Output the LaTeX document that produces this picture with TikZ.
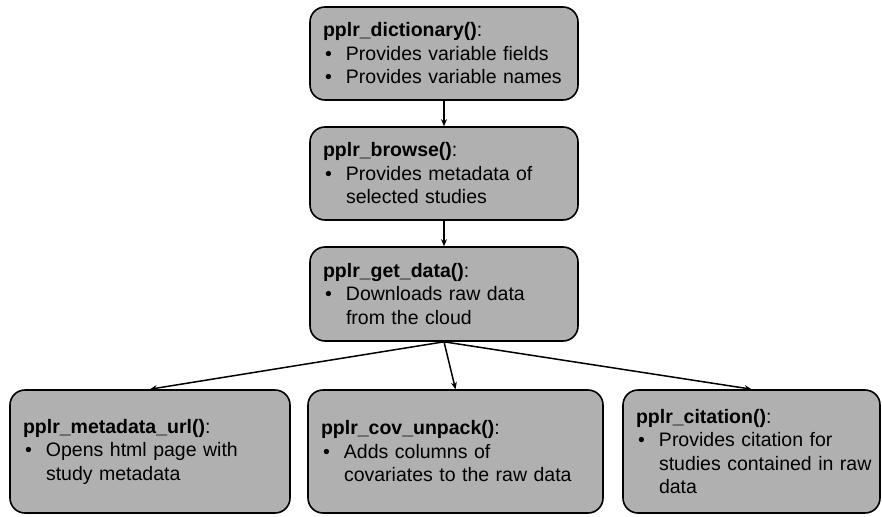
\documentclass[tikz,border=0pt]{standalone}
\usepackage{fontspec}
\setmainfont{Liberation Sans}
\usetikzlibrary{arrows.meta}
% bullet item and continuation line
\newcommand{\bl}{\makebox[23pt][l]{\hspace{2pt}\textbullet}}
\newcommand{\cn}{\hspace*{23pt}}
\newcommand{\fn}[1]{\textbf{#1}:}
\begin{document}
\begin{tikzpicture}[x=1pt,y=-1pt,
  fnbox/.style={draw=black, line width=1.6pt, fill=boxgray, rounded corners=15pt,
    align=left, inner xsep=13pt, inner ysep=0pt, anchor=center,
    font=\fontsize{19.5}{23.5}\selectfont},
  link/.style={line width=1.5pt, -{Stealth[length=7pt,width=6pt]}}]
\definecolor{boxgray}{HTML}{B0B0B0}
\useasboundingbox (0,0) rectangle (882,516);

\node[fnbox, minimum width=268pt, minimum height=93pt, text width=242pt] (dict) at (444,53.5)
  {\fn{pplr\_dictionary()}\\ \bl Provides variable fields\\ \bl Provides variable names};
\node[fnbox, minimum width=268pt, minimum height=93pt, text width=242pt] (browse) at (444,173.5)
  {\fn{pplr\_browse()}\\ \bl Provides metadata of\\ \cn selected studies};
\node[fnbox, minimum width=268pt, minimum height=94pt, text width=242pt] (getdata) at (444,294)
  {\fn{pplr\_get\_data()}\\ \bl Downloads raw data\\ \cn from the cloud};

\node[fnbox, minimum width=280pt, minimum height=123pt, text width=254pt] (meta) at (150,451.5)
  {\fn{pplr\_metadata\_url()}\\ \bl Opens html page with\\ \cn study metadata};
\node[fnbox, minimum width=295pt, minimum height=123pt, text width=269pt] (cov) at (455.5,451.5)
  {\fn{pplr\_cov\_unpack()}\\ \bl Adds columns of\\ \cn covariates to the raw data};
\node[fnbox, minimum width=257pt, minimum height=123pt, text width=231pt] (cite) at (751.5,451.5)
  {\fn{pplr\_citation()}\\ \bl Provides citation for\\ \cn\mbox{studies contained in raw}\\ \cn data};

\draw[link] (dict) -- (browse);
\draw[link] (browse) -- (getdata);
\draw[link] (getdata.south) -- (meta.north);
\draw[link] (getdata.south) -- (cov.north);
\draw[link] (getdata.south) -- (cite.north);
\end{tikzpicture}
\end{document}
